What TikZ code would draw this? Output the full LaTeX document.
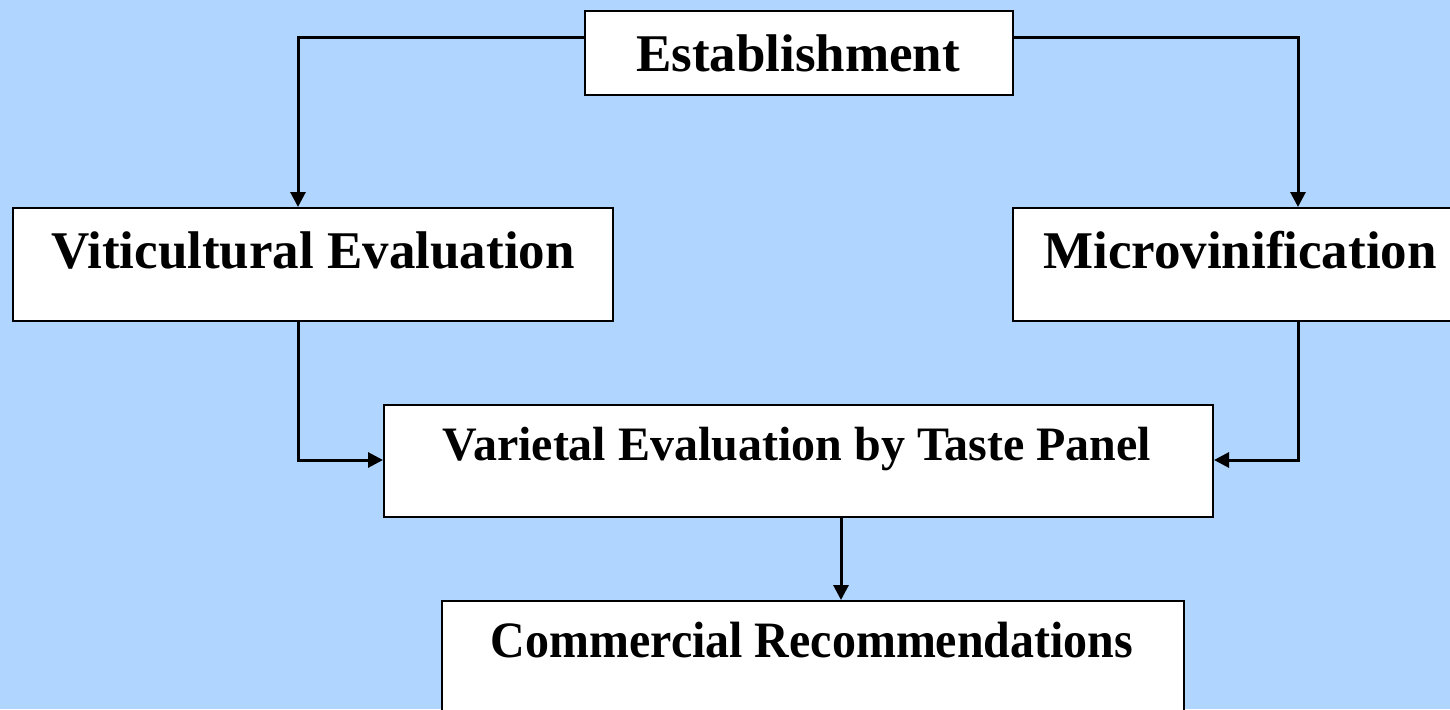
\documentclass[tikz,border=0pt]{standalone}
\usepackage{fontspec}
\setmainfont{Liberation Serif}
\usetikzlibrary{arrows.meta,positioning}
\definecolor{bgblue}{RGB}{176,214,255}
\tikzset{
  box/.style={draw=black, line width=2pt, fill=white, inner sep=0pt, anchor=north west},
  lbl/.style={inner sep=0pt, anchor=base, font=\bfseries\fontsize{53}{60}\selectfont},
  conn/.style={line width=3pt, -{Triangle[length=15pt,width=15pt]}},
}
\begin{document}
\begin{tikzpicture}[x=1pt,y=-1pt]
\fill[bgblue] (0,0) rectangle (1450,709);
\useasboundingbox (0,0) rectangle (1450,709);
\clip (0,0) rectangle (1450,709);
% boxes
\node[box, minimum width=428pt, minimum height=84pt] (est) at (584,10) {};
\node[box, minimum width=600pt, minimum height=113pt] (vit) at (12,207) {};
\node[box, minimum width=456pt, minimum height=113pt] (mic) at (1012,207) {};
\node[box, minimum width=829pt, minimum height=112pt] (var) at (383,404) {};
\node[box, minimum width=742pt, minimum height=130pt] (com) at (441,600) {};
% labels
\node[lbl] (estT) at (798,71) {Establishment};
\node[lbl] (vitT) at (313,268) {Viticultural Evaluation};
\node[lbl] (micT) at (1240,268) {Microvinification};
\node[lbl, font=\bfseries\fontsize{48}{55}\selectfont] (varT) at (797,460) {Varietal Evaluation by Taste Panel};
\node[lbl, font=\bfseries\fontsize{51}{58}\selectfont, xscale=0.94] (comT) at (812,657) {Commercial Recommendations};
% connector guides
\coordinate (lx) at (298,38);
\coordinate (rx) at (1298,38);
\coordinate (ly) at (298,460);
\coordinate (ry) at (1298,460);
\coordinate (dx) at (841,0);
% connectors
\draw[conn] (est.west |- lx) -| (lx |- vit.north);
\draw[conn] (est.east |- rx) -| (rx |- mic.north);
\draw[conn] (lx |- vit.south) |- (var.west |- ly);
\draw[conn] (rx |- mic.south) |- (var.east |- ry);
\draw[conn] (dx |- var.south) -- (dx |- com.north);
\end{tikzpicture}
\end{document}
